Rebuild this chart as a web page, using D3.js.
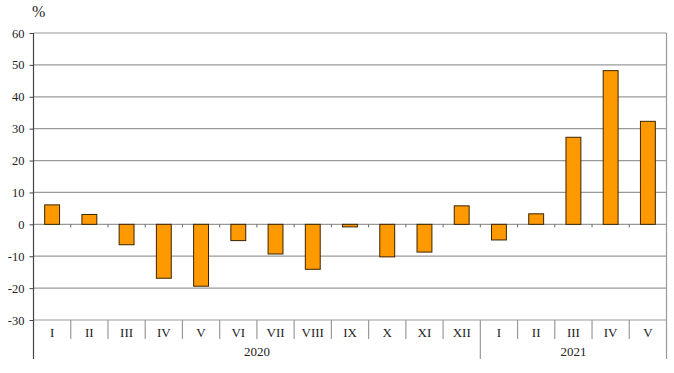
<!DOCTYPE html>
<html>
<head>
<meta charset="utf-8">
<script src="https://cdn.jsdelivr.net/npm/d3@7"></script>
<style>
  body { margin: 0; background: #fff; }
</style>
</head>
<body>
<div id="chart"></div>
<script>
// data
var months = ["I", "II", "III", "IV", "V", "VI", "VII", "VIII", "IX", "X", "XI", "XII",
              "I", "II", "III", "IV", "V"];
var years = ["2020", "2020", "2020", "2020", "2020", "2020", "2020", "2020", "2020", "2020", "2020", "2020",
             "2021", "2021", "2021", "2021", "2021"];
var values = [6.1, 3.1, -6.4, -16.9, -19.4, -5.1, -9.3, -14.1, -0.8, -10.2, -8.7, 5.8,
              -4.9, 3.3, 27.3, 48.2, 32.3];
var yTicks = [-30, -20, -10, 0, 10, 20, 30, 40, 50, 60];

var serif = "'Liberation Serif', 'Times New Roman', serif";
var svgWidth = 674;
var svgHeight = 373;
var margin = { top: 33, right: 7.5, bottom: 53, left: 33.5 };
var chartWidth = svgWidth - margin.left - margin.right;
var chartHeight = svgHeight - margin.top - margin.bottom;

var svg = d3.select("#chart").append("svg")
  .attr("width", svgWidth)
  .attr("height", svgHeight);

var chartGroup = svg.append("g")
  .attr("transform", `translate(${margin.left}, ${margin.top})`);

var idx = values.map((d, i) => i);

var xScale = d3.scaleBand()
  .domain(idx)
  .range([0, chartWidth])
  .paddingInner(0.6)
  .paddingOuter(0.3);

var yScale = d3.scaleLinear()
  .domain([-30, 60])
  .range([chartHeight, 0]);

// gridlines
chartGroup.append("g")
  .selectAll("line")
  .data(yTicks)
  .enter()
  .append("line")
  .attr("x1", 0)
  .attr("x2", chartWidth)
  .attr("y1", d => yScale(d))
  .attr("y2", d => yScale(d))
  .attr("stroke", "#9a9a9a")
  .attr("stroke-width", 1.2);

// right border
chartGroup.append("line")
  .attr("x1", chartWidth).attr("x2", chartWidth)
  .attr("y1", 0).attr("y2", chartHeight + 39)
  .attr("stroke", "#9a9a9a")
  .attr("stroke-width", 1.2);

// y axis (plain hyphen for negatives, like the original)
var yAxis = d3.axisLeft(yScale)
  .tickValues(yTicks)
  .tickFormat(d => String(d))
  .tickSize(4)
  .tickPadding(5);
var yG = chartGroup.append("g").call(yAxis);
yG.select(".domain").remove();
yG.selectAll(".tick line").attr("stroke", "#444");
yG.selectAll("text")
  .style("font-family", serif)
  .style("font-size", "12.5px")
  .attr("fill", "#222");

chartGroup.append("line")
  .attr("x1", 0).attr("x2", 0)
  .attr("y1", 0).attr("y2", chartHeight + 39)
  .attr("stroke", "#444")
  .attr("stroke-width", 1.2);

// category borders
var step = xScale.step();
var borders = d3.range(1, values.length);

// small ticks on the zero line
chartGroup.append("g")
  .selectAll("line")
  .data(borders)
  .enter()
  .append("line")
  .attr("x1", d => d * step)
  .attr("x2", d => d * step)
  .attr("y1", yScale(0))
  .attr("y2", yScale(0) + 3)
  .attr("stroke", "#666");

// category dividers under the axis
chartGroup.append("g")
  .selectAll("line")
  .data(borders)
  .enter()
  .append("line")
  .attr("x1", d => d * step)
  .attr("x2", d => d * step)
  .attr("y1", chartHeight)
  .attr("y2", d => years[d] !== years[d - 1] ? chartHeight + 39 : chartHeight + 19)
  .attr("stroke", "#9a9a9a")
  .attr("stroke-width", 1.2);

// bars
chartGroup.selectAll("rect.bar")
  .data(values)
  .enter()
  .append("rect")
  .attr("class", "bar")
  .attr("x", (d, i) => xScale(i))
  .attr("width", xScale.bandwidth())
  .attr("y", d => yScale(Math.max(0, d)))
  .attr("height", d => Math.abs(yScale(d) - yScale(0)))
  .attr("fill", "#ff9900")
  .attr("stroke", "#3a2400")
  .attr("stroke-width", 1);

// month labels
chartGroup.selectAll("text.month")
  .data(months)
  .enter()
  .append("text")
  .attr("class", "month")
  .attr("x", (d, i) => (i + 0.5) * step)
  .attr("y", chartHeight + 17)
  .attr("text-anchor", "middle")
  .attr("fill", "#222")
  .style("font-family", serif)
  .style("font-size", "13px")
  .text(d => d);

// year labels
var yearGroups = d3.groups(idx, i => years[i]);
chartGroup.selectAll("text.year")
  .data(yearGroups)
  .enter()
  .append("text")
  .attr("class", "year")
  .attr("x", d => (d3.min(d[1]) + d3.max(d[1]) + 1) / 2 * step)
  .attr("y", chartHeight + 36)
  .attr("text-anchor", "middle")
  .attr("fill", "#222")
  .style("font-family", serif)
  .style("font-size", "13px")
  .text(d => d[0]);

// unit label
svg.append("text")
  .attr("x", 32)
  .attr("y", 17)
  .attr("fill", "#222")
  .style("font-family", serif)
  .style("font-size", "16px")
  .text("%");
</script>
</body>
</html>
